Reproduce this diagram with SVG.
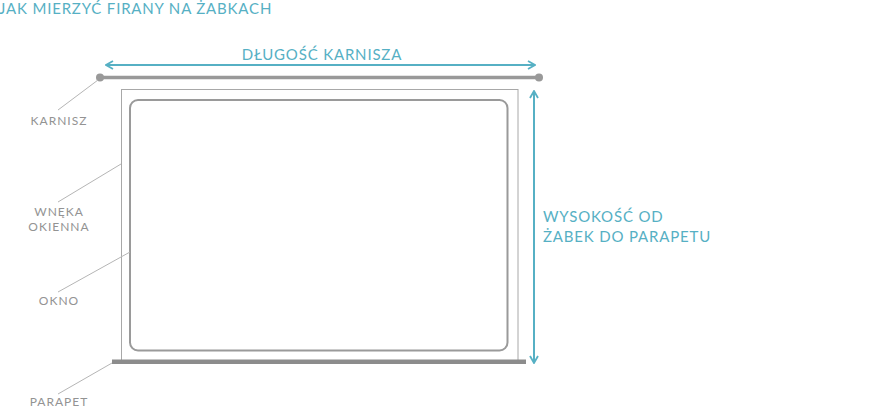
<svg xmlns="http://www.w3.org/2000/svg" width="880" height="418" viewBox="0 0 880 418">
<defs>
<style>
.t{font-family:Lato,"Open Sans","DejaVu Sans",sans-serif;fill:#56b0c4;font-size:15px;letter-spacing:0.82px}
.l{font-family:Lato,"Open Sans","DejaVu Sans",sans-serif;fill:#939393;font-size:12px;text-anchor:middle;letter-spacing:1px}
.lead{stroke:#b5b5b5;stroke-width:1;fill:none}
.dim{stroke:#56b0c4;stroke-width:2;fill:none}
</style>
<marker id="ah" viewBox="0 0 10 10" refX="9" refY="5" markerWidth="10" markerHeight="10" markerUnits="userSpaceOnUse" orient="auto-start-reverse">
<path d="M2,1 L9,5 L2,9" fill="none" stroke="#56b0c4" stroke-width="1.8"/>
</marker>
</defs>
<rect width="880" height="418" fill="#ffffff"/>
<text class="t" x="-1" y="14">JAK MIERZYĆ FIRANY NA ŻABKACH</text>
<g id="wnek">
<rect x="121.5" y="89.5" width="396.5" height="272" fill="none" stroke="#a8a8a8" stroke-width="1"/>
</g>
<g id="okno">
<rect x="130" y="100" width="377.5" height="250.5" rx="8" fill="none" stroke="#9a9a9a" stroke-width="2"/>
</g>
<g id="karnisz">
<line x1="100" y1="77.5" x2="539" y2="77.5" stroke="#999" stroke-width="3.5"/>
<circle cx="100" cy="77.5" r="4" fill="#999"/>
<circle cx="539" cy="77.5" r="4" fill="#999"/>
</g>
<g id="parapet">
<line x1="112" y1="361.8" x2="526" y2="361.8" stroke="#8c8c8c" stroke-width="4.5"/>
</g>
<g id="connectors">
<line class="dim" x1="106" y1="65" x2="535" y2="65" marker-start="url(#ah)" marker-end="url(#ah)"/>
<line class="dim" x1="534" y1="91" x2="534" y2="363" marker-start="url(#ah)" marker-end="url(#ah)"/>
<line class="lead" x1="58" y1="110" x2="98" y2="80"/>
<line class="lead" x1="58" y1="202" x2="121" y2="164"/>
<line class="lead" x1="58" y1="292" x2="130" y2="252"/>
<line class="lead" x1="58" y1="394" x2="112" y2="363"/>
</g>
<g id="labels">
<text class="t" x="322" y="60" text-anchor="middle">DŁUGOŚĆ KARNISZA</text>
<text class="t" x="543" y="222">WYSOKOŚĆ OD</text>
<text class="t" x="543" y="242">ŻABEK DO PARAPETU</text>
<text class="l" x="59" y="125">KARNISZ</text>
<text class="l" x="59" y="216">WNĘKA</text>
<text class="l" x="59" y="231">OKIENNA</text>
<text class="l" x="59" y="305">OKNO</text>
<text class="l" x="59" y="406">PARAPET</text>
</g>
</svg>
